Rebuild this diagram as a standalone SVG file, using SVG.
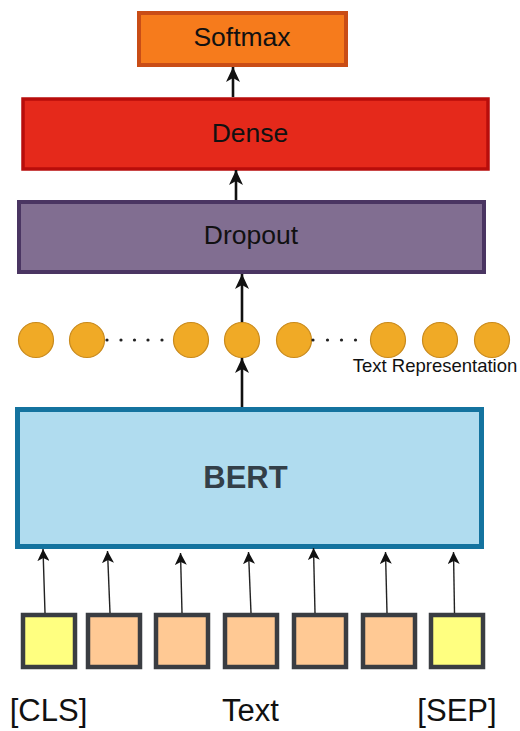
<svg xmlns="http://www.w3.org/2000/svg" width="520" height="731" viewBox="0 0 520 731">
  <style>
    .lbl { font-family: "Liberation Sans", Arial, sans-serif; fill: #111; text-anchor: middle; }
    .layer { font-size: 26.5px; }
    .tok { fill: #ffc994; stroke: #3a3d42; stroke-width: 4.5; }
    .tok.special { fill: #ffff80; }
    .vec { fill: #f0aa26; stroke: #c98a1c; stroke-width: 1.2; }
    .dot { fill: #222; }
    .main { stroke: #111; stroke-width: 2.6; fill: none; marker-end: url(#headBig); }
    .feed { stroke: #222; stroke-width: 1.4; fill: none; marker-end: url(#headSmall); }
  </style>
  <defs>
    <marker id="headBig" viewBox="0 0 15 14" refX="15" refY="7" markerWidth="15" markerHeight="14" markerUnits="userSpaceOnUse" orient="auto">
      <path d="M0,0 L15,7 L0,14 L4,7 Z" fill="#111"/>
    </marker>
    <marker id="headSmall" viewBox="0 0 12 12" refX="12" refY="6" markerWidth="12" markerHeight="12" markerUnits="userSpaceOnUse" orient="auto">
      <path d="M0,0 L12,6 L0,12 L3,6 Z" fill="#111"/>
    </marker>
  </defs>

  <rect width="520" height="731" fill="#fff"/>

  <!-- head of the classifier -->
  <g id="softmax">
    <rect x="139" y="13" width="207" height="52" fill="#f67b1c" stroke="#c94d16" stroke-width="4"/>
    <text class="lbl layer" x="242" y="46">Softmax</text>
  </g>
  <g id="dense">
    <rect x="23" y="99" width="465" height="70" fill="#e5291b" stroke="#b80d0b" stroke-width="3.5"/>
    <text class="lbl layer" x="250" y="142">Dense</text>
  </g>
  <g id="dropout">
    <rect x="19" y="202" width="465" height="70" fill="#816e91" stroke="#4a3562" stroke-width="4"/>
    <text class="lbl layer" x="251" y="244">Dropout</text>
  </g>

  <!-- pooled text representation vector -->
  <g id="text-representation">
    <circle class="vec" cx="36" cy="340" r="17.5"/>
    <circle class="vec" cx="87" cy="340" r="17.5"/>
    <circle class="dot" cx="107" cy="340" r="1.6"/>
    <circle class="dot" cx="121" cy="340" r="1.6"/>
    <circle class="dot" cx="134.5" cy="340" r="1.6"/>
    <circle class="dot" cx="148" cy="340" r="1.6"/>
    <circle class="dot" cx="162" cy="340" r="1.6"/>
    <circle class="vec" cx="191" cy="340" r="17.5"/>
    <circle class="vec" cx="242" cy="340" r="17.5"/>
    <circle class="vec" cx="294" cy="340" r="17.5"/>
    <circle class="dot" cx="313" cy="340" r="1.6"/>
    <circle class="dot" cx="327.5" cy="340" r="1.6"/>
    <circle class="dot" cx="341.5" cy="340" r="1.6"/>
    <circle class="dot" cx="355.5" cy="340" r="1.6"/>
    <circle class="vec" cx="388" cy="340" r="17.5"/>
    <circle class="vec" cx="440" cy="340" r="17.5"/>
    <circle class="vec" cx="492" cy="340" r="17.5"/>
    <text class="lbl" x="435" y="372" font-size="18.5" fill="#222">Text Representation</text>
  </g>

  <!-- encoder -->
  <g id="bert">
    <rect x="17.5" y="409.5" width="464" height="137" fill="#b0dcef" stroke="#14739f" stroke-width="5"/>
    <text class="lbl" x="245.5" y="488" font-size="31" font-weight="bold" style="fill:#333f48">BERT</text>
  </g>

  <!-- input tokens -->
  <g id="tokens">
    <rect id="tok-cls" class="tok special" x="23" y="615" width="52" height="52"/>
    <rect id="tok-1" class="tok" x="88" y="615" width="52" height="52"/>
    <rect id="tok-2" class="tok" x="156" y="615" width="52" height="52"/>
    <rect id="tok-3" class="tok" x="225" y="615" width="52" height="52"/>
    <rect id="tok-4" class="tok" x="294" y="615" width="52" height="52"/>
    <rect id="tok-5" class="tok" x="363" y="615" width="52" height="52"/>
    <rect id="tok-sep" class="tok special" x="431" y="615" width="52" height="52"/>
  </g>
  <g id="token-labels">
    <text class="lbl" x="48.5" y="721" font-size="31">[CLS]</text>
    <text class="lbl" x="250.5" y="721" font-size="31">Text</text>
    <text class="lbl" x="457" y="721" font-size="31">[SEP]</text>
  </g>

  <!-- connectors -->
  <g id="connectors">
    <line class="main" x1="233" y1="97" x2="233" y2="67"/>
    <line class="main" x1="236" y1="200" x2="236" y2="170"/>
    <line class="main" x1="242" y1="322" x2="242" y2="274"/>
    <line class="main" x1="242" y1="407" x2="242" y2="358"/>
    <line class="feed" x1="45" y1="613" x2="43" y2="549"/>
    <line class="feed" x1="110" y1="613" x2="107.5" y2="551"/>
    <line class="feed" x1="182" y1="613" x2="180.5" y2="553"/>
    <line class="feed" x1="251" y1="613" x2="248.5" y2="552"/>
    <line class="feed" x1="315" y1="613" x2="313.5" y2="548"/>
    <line class="feed" x1="387" y1="613" x2="385.5" y2="552"/>
    <line class="feed" x1="454.5" y1="613" x2="453.5" y2="552"/>
  </g>
</svg>
